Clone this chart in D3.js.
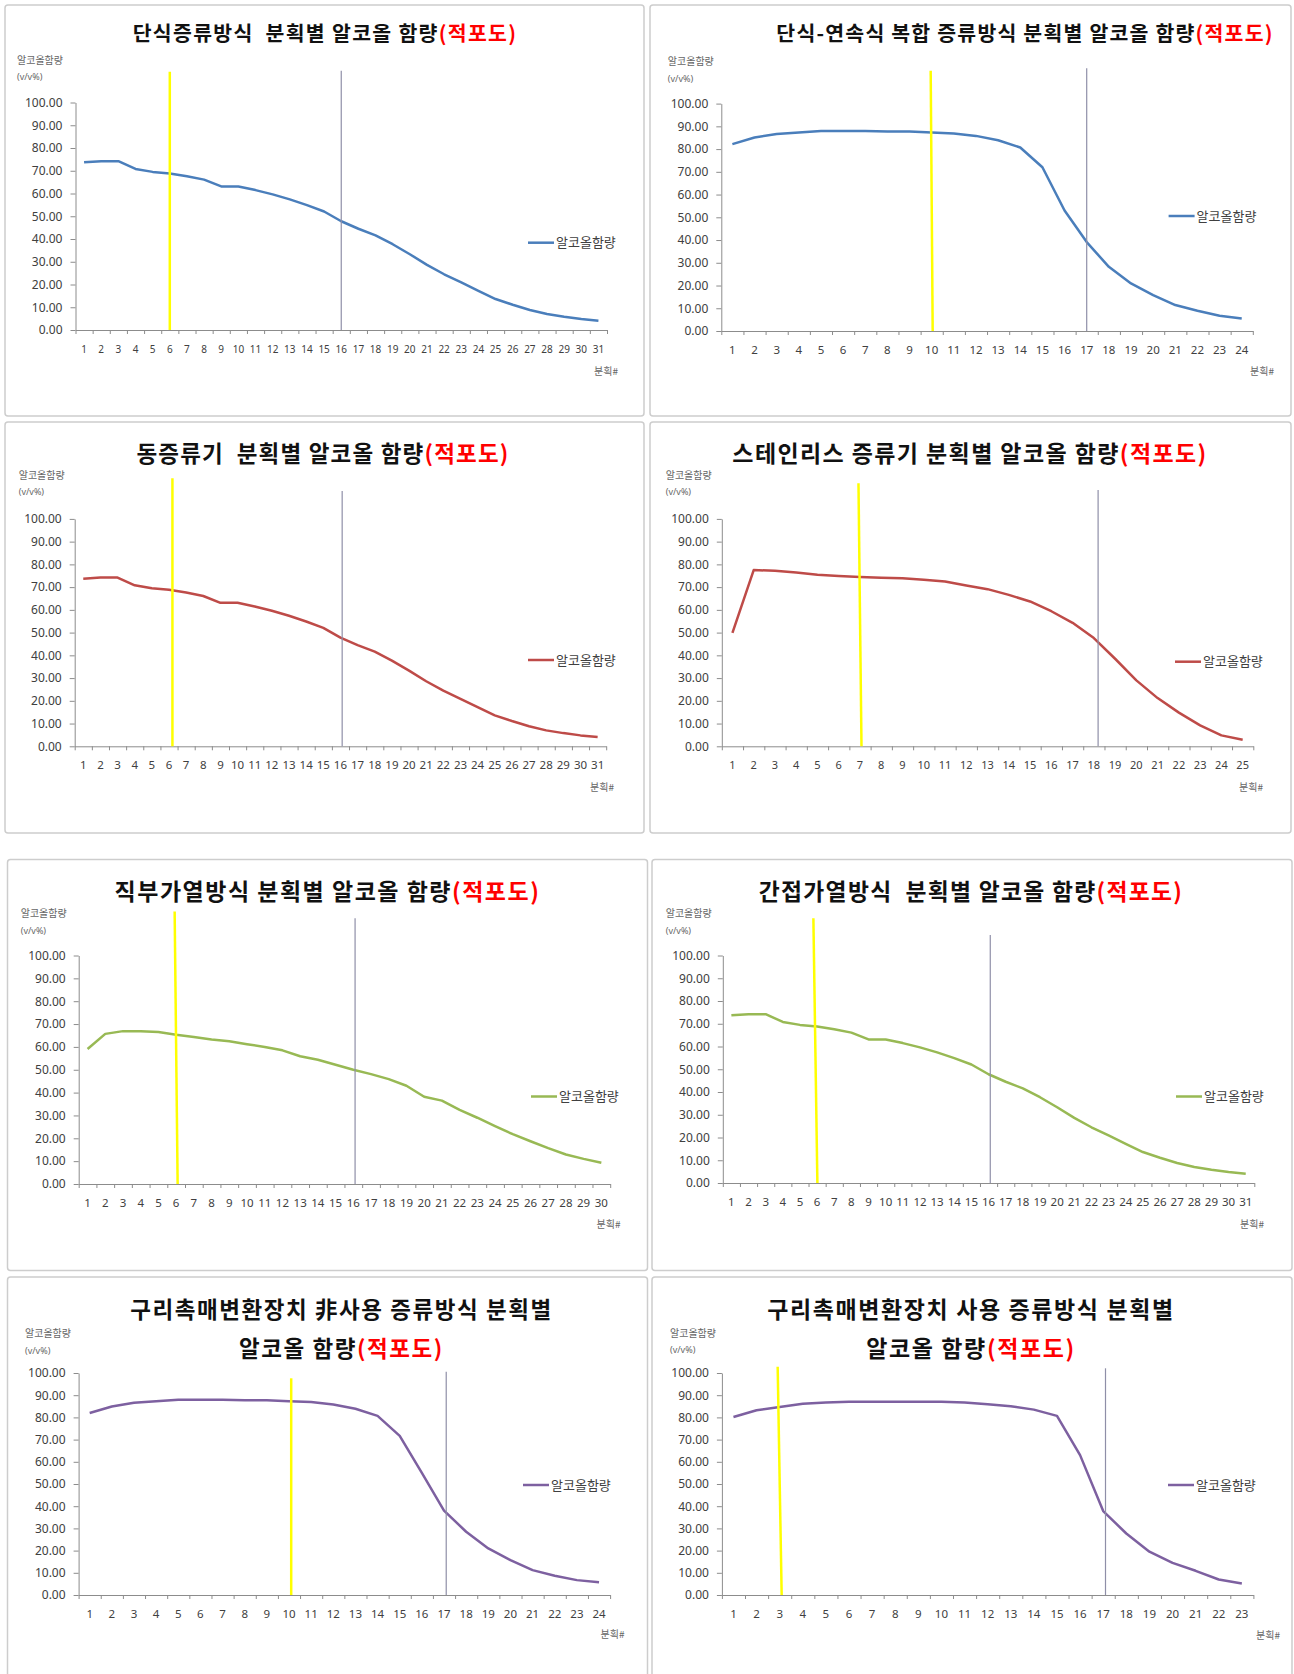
<!DOCTYPE html>
<html>
<head>
<meta charset="utf-8">
<script src="https://cdn.jsdelivr.net/npm/d3@7"></script>
<style>
  body { margin: 0; background: #fff; }
  svg { display: block; }
</style>
</head>
<body>
<svg id="chart" width="1294" height="1674"></svg>
<script>
// Fraction numbers (분획#) for each run length
const fractions31 = [1,2,3,4,5,6,7,8,9,10,11,12,13,14,15,16,17,18,19,20,21,22,23,24,25,26,27,28,29,30,31];
const fractions30 = [1,2,3,4,5,6,7,8,9,10,11,12,13,14,15,16,17,18,19,20,21,22,23,24,25,26,27,28,29,30];
const fractions25 = [1,2,3,4,5,6,7,8,9,10,11,12,13,14,15,16,17,18,19,20,21,22,23,24,25];
const fractions24 = [1,2,3,4,5,6,7,8,9,10,11,12,13,14,15,16,17,18,19,20,21,22,23,24];
const fractions23 = [1,2,3,4,5,6,7,8,9,10,11,12,13,14,15,16,17,18,19,20,21,22,23];

// Alcohol content (v/v%) per fraction, red wine distillate
const alcoholPotStill = [73.7,74.2,74.2,70.8,69.5,68.8,67.6,66.1,63.1,63.1,61.5,59.6,57.4,54.9,52.1,47.8,44.5,41.6,37.7,33.3,28.6,24.5,20.9,17.2,13.6,11.1,8.8,7.0,5.8,4.8,4.1];
const alcoholHybridStill = [82.2,85.1,86.6,87.3,88.0,88.0,88.0,87.7,87.7,87.3,86.9,85.8,83.9,80.7,72.0,53.0,39.1,28.2,20.9,15.8,11.4,8.9,6.7,5.5];
const alcoholCopperStill = [73.7,74.2,74.2,70.8,69.5,68.8,67.6,66.1,63.1,63.1,61.5,59.6,57.4,54.9,52.1,47.8,44.5,41.6,37.7,33.3,28.6,24.5,20.9,17.2,13.6,11.1,8.8,7.0,5.8,4.8,4.1];
const alcoholStainlessStill = [49.9,77.5,77.2,76.4,75.4,74.9,74.4,74.1,73.9,73.2,72.5,70.7,69.1,66.6,63.7,59.4,54.3,47.6,38.5,29.0,21.2,14.8,9.2,4.8,2.9];
const alcoholDirectHeat = [59.1,65.7,66.9,66.9,66.5,65.3,64.3,63.2,62.5,61.2,60.0,58.5,55.9,54.4,52.2,50.0,48.1,45.9,43.0,38.2,36.5,32.4,29.0,25.3,21.8,18.7,15.7,12.9,11.0,9.3];
const alcoholIndirectHeat = [73.7,74.2,74.2,70.8,69.5,68.8,67.6,66.1,63.1,63.1,61.5,59.6,57.4,54.9,52.1,47.8,44.5,41.6,37.7,33.3,28.6,24.5,20.9,17.2,13.6,11.1,8.8,7.0,5.8,4.8,4.1];
const alcoholNoCatalyst = [82.0,84.9,86.6,87.3,88.0,88.0,88.0,87.7,87.7,87.3,86.9,85.8,83.9,80.7,71.7,55.0,38.0,28.5,21.0,15.7,11.2,8.7,6.7,5.7];
const alcoholCatalyst = [80.2,83.2,84.7,86.1,86.7,87.0,87.0,87.0,87.0,87.0,86.7,85.9,85.0,83.5,80.7,63.0,37.8,27.7,19.5,14.5,10.9,7.0,5.2];

// Head / tail cut fractions (yellow = head cut, gray = tail cut)
const headCut = [6, 10, 6.2, 7, 6, 5.9, 10.1, 3];
const tailCut = [16, 17, 16.1, 18.2, 16.1, 16.1, 17.1, 17.1];

// Axis ticks and labels
const yTicks = [0,10,20,30,40,50,60,70,80,90,100];
const seriesName = "알코올함량";
const yTitle = ["알코올함량", "(v/v%)"];
const xTitle = "분획#";
const titleSuffix = "(적포도)";

const titles = [
  ["단식증류방식  분획별 알코올 함량"],
  ["단식-연속식 복합 증류방식 분획별 알코올 함량"],
  ["동증류기  분획별 알코올 함량"],
  ["스테인리스 증류기 분획별 알코올 함량"],
  ["직부가열방식 분획별 알코올 함량"],
  ["간접가열방식  분획별 알코올 함량"],
  ["구리촉매변환장치 非사용 증류방식 분획별", "알코올 함량"],
  ["구리촉매변환장치 사용 증류방식 분획별", "알코올 함량"]
];

const BLUE = "#4a7ebb", RED = "#be4b48", GREEN = "#98b954", PURPLE = "#7d60a0";

// Panel layout (positions relative to each panel box)
const panels = [
  {x:5,   y:5,     w:639, h:411, cats:fractions31, vals:alcoholPotStill,       color:BLUE,   tSize:20.5, tls:1.3, tx:320, ty:[29],      left:70.5, top:97.5, bottom:325,   yTop:66.7, gTop:65.7, lean:0, lx:523,   ly:237.7, ux:613, uy:366.7, xs:10,   ax:12,   ay:55},
  {x:650, y:5,     w:641, h:411, cats:fractions24, vals:alcoholHybridStill,    color:BLUE,   tSize:20.5, tls:1.2, tx:375, ty:[29],      left:71.3, top:98.6, bottom:326,   yTop:65.7, gTop:63.3, lean:2, lx:518.6, ly:211,   ux:624, uy:366.7, xs:11.5, ax:17.8, ay:56.7},
  {x:5,   y:422,   w:639, h:411, cats:fractions31, vals:alcoholCopperStill,    color:RED,    tSize:22.5, tls:1.2, tx:318, ty:[31.8],    left:69.7, top:96.9, bottom:324.3, yTop:56.3, gTop:69,   lean:0, lx:523,   ly:238,   ux:609, uy:365,   xs:11.5, ax:13.7, ay:53},
  {x:650, y:422,   w:641, h:411, cats:fractions25, vals:alcoholStainlessStill, color:RED,    tSize:23,   tls:1.4, tx:320, ty:[31.8],    left:71.8, top:96.9, bottom:324.3, yTop:61.3, gTop:68,   lean:3, lx:525,   ly:239.7, ux:613, uy:365,   xs:11,   ax:15.7, ay:53},
  {x:7.5, y:859.5, w:640, h:411, cats:fractions30, vals:alcoholDirectHeat,     color:GREEN,  tSize:23,   tls:1.5, tx:320, ty:[32],      left:71.2, top:96,   bottom:324.5, yTop:52,   gTop:58.8, lean:3, lx:523.5, ly:237,   ux:613, uy:365,   xs:11.5, ax:13.2, ay:53.8},
  {x:652, y:859.5, w:640, h:411, cats:fractions31, vals:alcoholIndirectHeat,   color:GREEN,  tSize:22.8, tls:1.3, tx:319, ty:[32],      left:70.8, top:96,   bottom:323.5, yTop:58.8, gTop:75.5, lean:4, lx:524,   ly:237,   ux:612, uy:365,   xs:11.5, ax:13.7, ay:53.8},
  {x:7.5, y:1277,  w:640, h:411, cats:fractions24, vals:alcoholNoCatalyst,     color:PURPLE, tSize:22.5, tls:1.55,tx:334, ty:[33,71.5], left:71.1, top:96,   bottom:318,   yTop:101.3,gTop:94.7, lean:0, lx:515.5, ly:208,   ux:617, uy:357,   xs:11.5, ax:17.5, ay:56.3},
  {x:652, y:1277,  w:640, h:411, cats:fractions23, vals:alcoholCatalyst,       color:PURPLE, tSize:23,   tls:1.6, tx:319, ty:[33,71.5], left:69.9, top:96,   bottom:318,   yTop:89.7, gTop:91.3, lean:4, lx:516,   ly:208,   ux:628, uy:358,   xs:11.5, ax:18,   ay:56}
];

const PLOT_W = 531.5;
const KR = "'Noto Sans CJK KR', 'Noto Sans', sans-serif";
const LATIN = "'Noto Sans', 'DejaVu Sans', sans-serif";
const AXIS_GRAY = "#8c8c8c";
const TEXT_GRAY = "#404040";

const svg = d3.select("#chart");
svg.append("rect").attr("width", 1294).attr("height", 1674).attr("fill", "#fff");

panels.forEach((p, k) => {
  const g = svg.append("g").attr("transform", `translate(${p.x},${p.y})`);

  // panel frame
  g.append("rect")
    .attr("x", 0).attr("y", 0).attr("width", p.w).attr("height", p.h)
    .attr("rx", 3).attr("fill", "#fff")
    .attr("stroke", "#cdcdcd").attr("stroke-width", 1.5);

  // title, last line ends with the red "(적포도)"
  const title = g.append("text")
    .attr("text-anchor", "middle")
    .attr("font-family", KR).attr("font-weight", 700)
    .attr("font-size", p.tSize).attr("fill", "#111")
    .attr("letter-spacing", p.tls)
    .style("white-space", "pre");
  titles[k].forEach((line, i) => {
    title.append("tspan")
      .attr("x", p.tx).attr("y", p.ty[i]).attr("dy", "0.36em")
      .text(line);
    if (i === titles[k].length - 1) {
      title.append("tspan").attr("fill", "#ff0000").text(titleSuffix);
    }
  });

  // scales
  const x = d3.scaleBand().domain(p.cats).range([p.left, p.left + PLOT_W]).padding(0);
  const xPos = d3.scaleLinear().domain([0.5, p.cats.length + 0.5]).range([p.left, p.left + PLOT_W]);
  const y = d3.scaleLinear().domain([0, 100]).range([p.bottom, p.top]);

  // y axis
  const gy = g.append("g")
    .attr("transform", `translate(${p.left},0)`)
    .call(d3.axisLeft(y).tickValues(yTicks).tickFormat(d3.format(".2f"))
      .tickSize(5).tickSizeOuter(0).tickPadding(8));
  gy.select(".domain").attr("stroke", AXIS_GRAY);
  gy.selectAll(".tick line").attr("stroke", AXIS_GRAY);
  gy.selectAll(".tick text")
    .attr("font-family", LATIN).attr("font-size", 12).attr("fill", TEXT_GRAY);

  // x axis: boundary tick marks
  const gxTicks = g.append("g")
    .attr("transform", `translate(0,${p.bottom})`)
    .call(d3.axisBottom(xPos).tickValues(d3.range(0.5, p.cats.length + 1, 1))
      .tickFormat("").tickSize(4).tickSizeOuter(0));
  gxTicks.select(".domain").attr("stroke", AXIS_GRAY);
  gxTicks.selectAll(".tick line").attr("stroke", AXIS_GRAY);

  // x axis: category labels centred in each band
  const gx = g.append("g")
    .attr("transform", `translate(0,${p.bottom})`)
    .call(d3.axisBottom(x).tickSize(0).tickSizeOuter(0));
  gx.select(".domain").remove();
  gx.selectAll(".tick text")
    .attr("y", 19).attr("dy", "0.36em")
    .attr("font-family", LATIN).attr("font-size", p.xs).attr("fill", TEXT_GRAY);

  // axis titles
  g.append("text").attr("x", p.ax).attr("y", p.ay).attr("dy", "0.36em")
    .attr("font-family", KR).attr("font-size", 10).attr("fill", "#666")
    .text(yTitle[0]);
  g.append("text").attr("x", p.ax).attr("y", p.ay + 17).attr("dy", "0.36em")
    .attr("font-family", LATIN).attr("font-size", 9).attr("fill", "#666")
    .text(yTitle[1]);
  g.append("text").attr("x", p.ux).attr("y", p.uy).attr("dy", "0.36em")
    .attr("text-anchor", "end")
    .attr("font-family", KR).attr("font-size", 10).attr("fill", "#666")
    .text(xTitle);

  // series line
  const line = d3.line()
    .x((d, i) => x(p.cats[i]) + x.bandwidth() / 2)
    .y(d => y(d));
  g.append("path").datum(p.vals)
    .attr("d", line)
    .attr("fill", "none").attr("stroke", p.color)
    .attr("stroke-width", 2.5).attr("stroke-linejoin", "round");

  // cut markers
  const hx = xPos(headCut[k]);
  g.append("line")
    .attr("x1", hx - p.lean / 2).attr("y1", p.yTop)
    .attr("x2", hx + p.lean / 2).attr("y2", p.bottom)
    .attr("stroke", "#ffff00").attr("stroke-width", 2.5);
  const tx = xPos(tailCut[k]);
  g.append("line")
    .attr("x1", tx).attr("y1", p.gTop)
    .attr("x2", tx).attr("y2", p.bottom)
    .attr("stroke", "#8f8fa8").attr("stroke-width", 1.2);

  // legend
  g.append("line")
    .attr("x1", p.lx).attr("x2", p.lx + 26).attr("y1", p.ly).attr("y2", p.ly)
    .attr("stroke", p.color).attr("stroke-width", 2.5);
  g.append("text")
    .attr("x", p.lx + 28).attr("y", p.ly).attr("dy", "0.36em")
    .attr("font-family", KR).attr("font-size", 13).attr("fill", TEXT_GRAY)
    .text(seriesName);
});
</script>
</body>
</html>
